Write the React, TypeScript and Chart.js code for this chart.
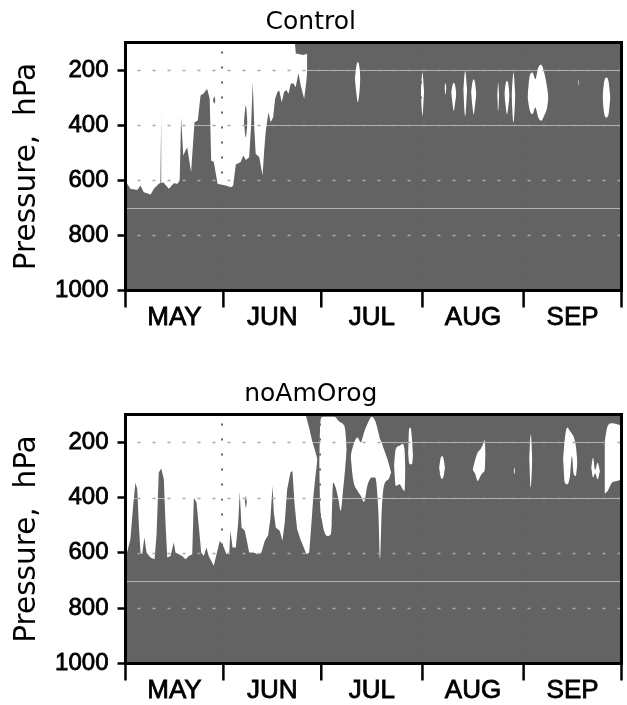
import React, { useEffect, useRef } from 'react';
import { Chart, registerables } from 'chart.js';

Chart.register(...registerables);

// ---------- axes ----------
const monthNames = ['MAY', 'JUN', 'JUL', 'AUG', 'SEP'];
const monthEdges = [1, 31, 61, 92, 123, 153];
const pressureTicks = [200, 400, 600, 800, 1000];
const dashedLevels = [200, 400, 600, 800];
const solidLevels = [200, 400, 700];

// ---------- Control ----------
const ctrlEdgeDay = [1, 1.5, 2.5, 4.6, 5.6, 6.6, 8.7, 9.7, 11.2, 11.7, 11.95, 12.15, 12.55, 14.3, 15.8, 17.0, 17.6, 18.05, 18.7, 19.4, 19.9, 21.1, 22.15, 23.15, 24.0, 25.0, 26.0, 26.8, 27.25, 28.05, 28.7, 29.2, 30.2, 31.7, 33.3, 34.0, 34.8, 36.3, 37.1, 37.9, 38.9, 39.5, 40.0, 40.5, 40.9, 42.0, 43.0, 43.5, 44.0, 44.8, 45.5, 46.25, 46.85, 47.55, 48.1, 48.9, 49.6, 50.3, 50.95, 51.65, 52.4, 53.15, 54.0, 54.7, 55.75, 56.45, 56.7];
const ctrlEdgeP = [610, 613, 631, 635, 619, 643, 652, 631, 613, 610, 359, 610, 607, 631, 611, 613, 600, 373, 510, 492, 480, 571, 389, 383, 292, 284, 268, 304, 528, 534, 577, 613, 615, 619, 625, 620, 543, 534, 510, 526, 516, 400, 244, 420, 504, 516, 583, 492, 419, 353, 389, 371, 304, 280, 274, 317, 280, 272, 286, 250, 248, 262, 211, 256, 304, 240, 200];
const ctrlCapDay = [1, 52.9, 53.2, 55.5, 56.7];
const ctrlCapP = [100, 100, 140, 145, 141];
const ctrlCellDay = [71.3, 71.7, 72.2, 72.7, 73.0, 80, 91.5, 92.0, 92.5, 95, 98.75, 99.05, 99.35, 100, 100.8, 101.2, 101.6, 102.0, 102.4, 103, 104.5, 105.1, 105.7, 106, 106.9, 107.3, 107.7, 108.1, 108.5, 110, 114.9, 115.2, 115.5, 116, 117.1, 117.5, 117.9, 118.3, 118.7, 119, 119.3, 119.9, 120.5, 122, 124.2, 124.9, 125.7, 126.6, 127.5, 128.4, 129.3, 130.2, 130.6, 135, 139.75, 139.9, 140.05, 145, 147.2, 147.6, 148.3, 149.0, 149.6];
const ctrlCellTop = [230, 190, 171, 190, 230, null, 280, 209, 280, null, 265, 246, 265, null, 280, 255, 246, 255, 285, null, 270, 203, 270, null, 280, 245, 233, 245, 285, null, 290, 246, 290, null, 285, 250, 240, 250, 290, null, 290, 209, 290, null, 298, 220, 209, 233, 191, 181, 209, 263, 298, null, 245, 233, 245, null, 300, 250, 227, 240, 300];
const ctrlCellBot = [230, 280, 317, 280, 230, null, 280, 366, 280, null, 265, 288, 265, null, 280, 320, 349, 320, 285, null, 270, 366, 270, null, 280, 330, 360, 330, 285, null, 290, 349, 290, null, 285, 330, 360, 335, 290, null, 290, 390, 290, null, 298, 347, 360, 336, 372, 384, 366, 336, 298, null, 245, 257, 245, null, 300, 350, 372, 362, 300];
const ctrlDryDay = [27.8, 28.2, 28.6, 33, 37.3, 37.86, 38.4];
const ctrlDryTop = [310, 296, 310, null, 390, 329, 390];
const ctrlDryBot = [310, 322, 310, null, 390, 444, 390];

// ---------- noAmOrog ----------
const nlEdgeDay = [1, 1.5, 2.5, 3.35, 4.05, 4.6, 5.05, 5.6, 6.1, 6.8, 7.45, 8.65, 9.9, 10.5, 11.2, 11.95, 12.75, 13.25, 13.8, 14.8, 15.8, 16.3, 17.35, 18.35, 19.4, 20.4, 21.45, 21.95, 22.75, 23.45, 24.2, 25.0, 25.8, 26.5, 28.05, 28.9, 29.9, 30.95, 31.95, 32.8, 33.15, 33.8, 34.8, 35.55, 36.0, 36.55, 37.55, 38.3, 38.9, 40.1, 41.65, 42.65, 43.7, 44.7, 45.4, 46.05, 46.45, 47.05, 48.25, 49.1, 49.8, 50.55, 51.55, 52.15, 52.85, 53.6, 54.6, 55.45, 56.45, 57.3, 58.0, 58.5, 59.1, 59.5, 59.8];
const nlEdgeP = [600, 599, 551, 430, 346, 370, 490, 599, 605, 545, 599, 617, 623, 538, 310, 295, 334, 490, 617, 611, 563, 599, 605, 611, 623, 611, 605, 400, 418, 502, 599, 611, 581, 611, 647, 605, 556, 575, 605, 599, 520, 581, 581, 490, 379, 508, 520, 563, 599, 599, 605, 599, 556, 536, 478, 358, 454, 508, 520, 556, 490, 370, 310, 304, 430, 515, 551, 575, 605, 599, 490, 406, 334, 295, 262];
const nlCapDay = [1, 56.2, 57.3, 58.3, 59.2, 59.8];
const nlCapP = [100, 100, 150, 200, 235, 262];
const nlCellDay = [60.35, 60.65, 61.15, 61.85, 62.9, 63.9, 64.2, 64.6, 65.4, 66.25, 66.95, 67.7, 68.3, 68.8, 69.5, 70.0, 70.75, 72.1, 73.1, 74.1, 75.1, 76.5, 77.5, 78.5, 79.0, 79.5, 80.2, 81.6, 82.4, 83, 83.3, 83.8, 85.0, 85.85, 86.5, 86.8, 87.2, 87.6, 87.9, 88.3, 88.8, 89.1, 93, 97.1, 97.5, 98.0, 98.5, 98.9, 103, 107.4, 108.2, 108.9, 109.8, 110.6, 111.1, 111.35, 115, 119.95, 120.15, 120.35, 122, 124.7, 125.2, 125.7, 130, 135.1, 135.6, 136.4, 137.2, 137.8, 138.4, 139.0, 139.5, 142, 143.7, 144.3, 144.9, 145.7, 146.4, 147, 147.8, 148.8, 150.1, 151.6, 152.6, 152.9];
const nlCellTop = [274, 141, 110, 108, 108, 108, 108, 108, 110, 123, 129, 135, 153, 226, null, 250, 213, 183, 201, 165, 135, 108, 123, 165, 189, 201, 226, 274, 310, null, 286, 226, 213, 207, 226, 298, null, 238, 153, 147, 189, 250, null, 292, 262, 250, 262, 292, null, 300, 262, 238, 226, 207, 192, 240, null, 304, 292, 304, null, 260, 171, 260, null, 262, 190, 147, 160, 170, 183, 213, 274, null, 292, 256, 300, 274, 304, null, 201, 141, 132, 135, 141, 150];
const nlCellBot = [274, 430, 479, 521, 539, 533, 491, 346, 364, 406, 448, 370, 298, 226, null, 250, 334, 376, 394, 416, 358, 328, 328, 454, 623, 454, 358, 334, 310, null, 286, 358, 352, 368, 376, 298, null, 238, 274, 280, 280, 250, null, 292, 322, 332, 322, 292, null, 300, 316, 340, 322, 310, 300, 240, null, 304, 316, 304, null, 260, 364, 260, null, 262, 346, 352, 322, 250, 316, 322, 274, null, 292, 328, 312, 334, 304, null, 388, 376, 346, 340, 334, 320];
const nlDryDay = [37.6, 37.9, 38.2];
const nlDryTop = [415, 394, 415];
const nlDryBot = [415, 436, 415];

// ---------- styling ----------
const DARK = '#636363';
const WHITE = '#ffffff';

type Pt = { x: number; y: number };

function pts(xs: number[], ys: number[]): Pt[] {
  return xs.map((x, i) => ({ x, y: ys[i] }));
}

function groups(days: number[], a: (number | null)[], b: (number | null)[]) {
  const out: { top: Pt[]; bot: Pt[] }[] = [];
  let cur: { top: Pt[]; bot: Pt[] } | null = null;
  days.forEach((d, i) => {
    if (a[i] === null || b[i] === null) {
      cur = null;
      return;
    }
    if (!cur) {
      cur = { top: [], bot: [] };
      out.push(cur);
    }
    cur.top.push({ x: d, y: a[i] as number });
    cur.bot.push({ x: d, y: b[i] as number });
  });
  return out;
}

const lineBase = { borderWidth: 0, pointRadius: 0, pointHoverRadius: 0, pointHitRadius: 0 };

function buildDatasets(s: any) {
  const ds: any[] = [];
  ds.push({ ...lineBase, data: pts(s.capDay, s.capP), fill: '+1', backgroundColor: WHITE, tension: 0, order: 3 });
  ds.push({ ...lineBase, data: pts(s.edgeDay, s.edgeP), fill: false, tension: 0, order: 3 });
  for (const g of groups(s.cellDay, s.cellTop, s.cellBot)) {
    ds.push({ ...lineBase, data: g.top, fill: '+1', backgroundColor: WHITE, cubicInterpolationMode: 'monotone', order: 2 });
    ds.push({ ...lineBase, data: g.bot, fill: false, cubicInterpolationMode: 'monotone', order: 2 });
  }
  for (const g of groups(s.dryDay, s.dryTop, s.dryBot)) {
    ds.push({ ...lineBase, data: g.top, fill: '+1', backgroundColor: DARK, cubicInterpolationMode: 'monotone', order: 1 });
    ds.push({ ...lineBase, data: g.bot, fill: false, cubicInterpolationMode: 'monotone', order: 1 });
  }
  return ds;
}

const panelPlugin = {
  id: 'panelDecor',
  beforeDraw(chart: any) {
    const { ctx, chartArea: a } = chart;
    ctx.save();
    ctx.fillStyle = DARK;
    ctx.fillRect(a.left, a.top, a.right - a.left, a.bottom - a.top);
    ctx.restore();
  },
  afterDatasetsDraw(chart: any) {
    const { ctx, chartArea: a } = chart;
    const x = chart.scales.x;
    const y = chart.scales.y;
    ctx.save();
    ctx.beginPath();
    ctx.rect(a.left, a.top, a.right - a.left, a.bottom - a.top);
    ctx.clip();
    // vertical dotted month lines (dark: only visible over white)
    ctx.strokeStyle = DARK;
    ctx.lineWidth = 2;
    ctx.setLineDash([2, 13]);
    for (const d of monthEdges.slice(1)) {
      const px = Math.round(x.getPixelForValue(d)) - 1;
      ctx.beginPath();
      ctx.moveTo(px, a.top + 9);
      ctx.lineTo(px, a.bottom);
      ctx.stroke();
    }
    // solid light contour levels
    ctx.setLineDash([]);
    ctx.strokeStyle = 'rgba(255,255,255,0.5)';
    ctx.lineWidth = 1;
    for (const p of solidLevels) {
      const py = Math.round(y.getPixelForValue(p)) + 0.5;
      ctx.beginPath();
      ctx.moveTo(a.left, py);
      ctx.lineTo(a.right, py);
      ctx.stroke();
    }
    // dashed reference levels
    ctx.strokeStyle = '#a9a9a9';
    ctx.lineWidth = 1.5;
    ctx.setLineDash([3, 12]);
    ctx.lineDashOffset = -12;
    for (const p of dashedLevels) {
      const py = Math.round(y.getPixelForValue(p)) + 0.5;
      ctx.beginPath();
      ctx.moveTo(a.left, py);
      ctx.lineTo(a.right, py);
      ctx.stroke();
    }
    ctx.restore();

    ctx.save();
    ctx.strokeStyle = '#000';
    ctx.lineWidth = 3;
    ctx.strokeRect(a.left, a.top, a.right - a.left, a.bottom - a.top);
    ctx.lineWidth = 2.5;
    for (const d of monthEdges) {
      const px = x.getPixelForValue(d);
      ctx.beginPath();
      ctx.moveTo(px, a.bottom);
      ctx.lineTo(px, a.bottom + 17);
      ctx.stroke();
    }
    ctx.restore();
  },
};

function makeConfig(title: string, s: any, canvasH: number, plotBottom: number): any {
  return {
    type: 'line',
    data: { datasets: buildDatasets(s) },
    plugins: [panelPlugin],
    options: {
      responsive: false,
      animation: false,
      devicePixelRatio: 1,
      events: [],
      layout: { padding: { left: 0, right: 5.5, top: 0, bottom: 0 } },
      plugins: {
        legend: { display: false },
        tooltip: { enabled: false },
        title: {
          display: true,
          text: title,
          color: '#000',
          font: { family: 'DejaVu Sans', size: 25, weight: 'normal', lineHeight: 1.2 },
          padding: { top: 7.5, bottom: 5 },
        },
      },
      scales: {
        x: {
          type: 'linear',
          min: monthEdges[0],
          max: monthEdges[monthEdges.length - 1],
          afterBuildTicks: (sc: any) => {
            sc.ticks = monthNames.map((_, i) => ({ value: (monthEdges[i] + monthEdges[i + 1]) / 2 }));
          },
          afterFit: (sc: any) => {
            sc.height = canvasH - plotBottom;
          },
          grid: { display: false, drawTicks: false },
          border: { display: false },
          ticks: {
            autoSkip: false,
            maxRotation: 0,
            padding: 12,
            color: '#000',
            textStrokeColor: '#000',
            textStrokeWidth: 0.8,
            font: { family: 'Liberation Sans', size: 26 },
            callback: (_v: any, i: number) => monthNames[i],
          },
        },
        y: {
          type: 'linear',
          reverse: true,
          min: 100,
          max: 1000,
          afterBuildTicks: (sc: any) => {
            sc.ticks = pressureTicks.map((v) => ({ value: v }));
          },
          afterFit: (sc: any) => {
            sc.width = 125.5;
          },
          grid: { drawOnChartArea: false, drawTicks: true, tickLength: 8, tickWidth: 2.5, tickColor: '#000' },
          border: { display: false },
          ticks: {
            padding: 9,
            color: '#000',
            textStrokeColor: '#000',
            textStrokeWidth: 0.8,
            font: { family: 'Liberation Sans', size: 24 },
            callback: (v: any) => String(v),
          },
          title: {
            display: true,
            text: 'Pressure,  hPa',
            color: '#000',
            font: { family: 'DejaVu Sans', size: 29.5, weight: 'normal', lineHeight: 1.2 },
            padding: { top: 10, bottom: 0 },
          },
        },
      },
    },
  };
}

const ctrlSeries = {
  edgeDay: ctrlEdgeDay, edgeP: ctrlEdgeP, capDay: ctrlCapDay, capP: ctrlCapP,
  cellDay: ctrlCellDay, cellTop: ctrlCellTop, cellBot: ctrlCellBot,
  dryDay: ctrlDryDay, dryTop: ctrlDryTop, dryBot: ctrlDryBot,
};
const nlSeries = {
  edgeDay: nlEdgeDay, edgeP: nlEdgeP, capDay: nlCapDay, capP: nlCapP,
  cellDay: nlCellDay, cellTop: nlCellTop, cellBot: nlCellBot,
  dryDay: nlDryDay, dryTop: nlDryTop, dryBot: nlDryBot,
};

const TOP_H = 372;
const BOT_H = 333;

export default function App() {
  const topRef = useRef<HTMLCanvasElement>(null);
  const botRef = useRef<HTMLCanvasElement>(null);

  useEffect(() => {
    const c1 = new Chart(topRef.current as HTMLCanvasElement, makeConfig('Control', ctrlSeries, TOP_H, 290.5));
    const c2 = new Chart(botRef.current as HTMLCanvasElement, makeConfig('noAmOrog', nlSeries, BOT_H, 291.5));
    return () => {
      c1.destroy();
      c2.destroy();
    };
  }, []);

  return (
    <div style={{ position: 'absolute', left: 0, top: 0, width: 627, height: 705, background: '#fff' }}>
      <canvas ref={topRef} width={627} height={TOP_H} style={{ position: 'absolute', left: 0, top: 0 }} />
      <canvas ref={botRef} width={627} height={BOT_H} style={{ position: 'absolute', left: 0, top: TOP_H }} />
    </div>
  );
}
